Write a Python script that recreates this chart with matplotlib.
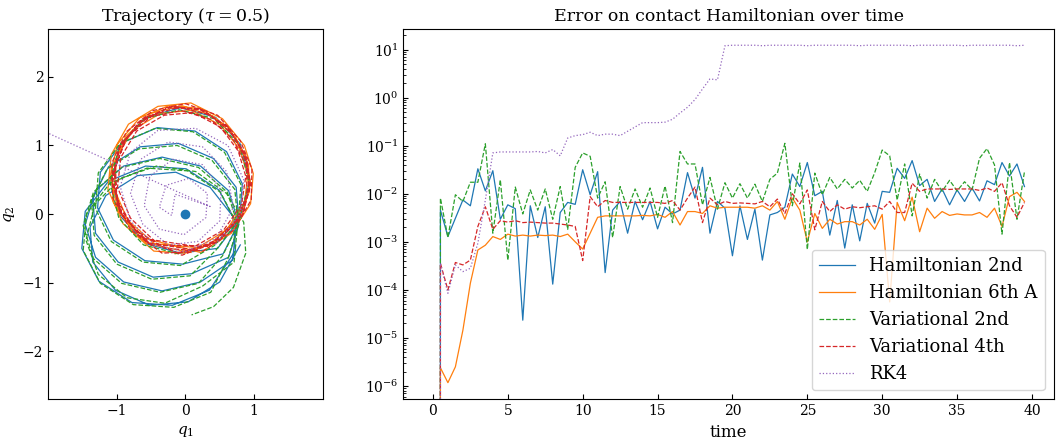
import numpy as np
import matplotlib
matplotlib.use("Agg")
import matplotlib.pyplot as plt

plt.rcParams['font.family'] = ['DejaVu Serif']
plt.rcParams['mathtext.fontset'] = 'dejavuserif'
plt.rcParams['xtick.direction'] = 'in'
plt.rcParams['ytick.direction'] = 'in'

# time grid of the integrators (step tau = 0.5)
time = np.arange(0, 40, 0.5)

# log10 of the contact Hamiltonian error, from t = 0.5 on (error at t = 0 is 0)
log_err_ham2 = [
    -2.34, -2.89, -2.51, -2.13, -2.25, -1.48, -1.94, -1.52, -2.53, -2.23,
    -2.31, -4.63, -2.25, -2.91, -2.27, -3.88, -2.39, -2.18, -2.22, -1.50,
    -2.02, -1.54, -3.64, -2.34, -2.16, -2.82, -2.16, -2.54, -2.16, -2.73,
    -2.28, -2.42, -2.34, -1.56, -2.09, -1.45, -2.82, -2.16, -2.30, -3.29,
    -2.25, -2.95, -2.32, -3.38, -2.44, -2.39, -2.28, -1.59, -1.85, -1.35,
    -2.04, -1.95, -2.86, -2.14, -3.13, -2.23, -2.98, -2.20, -2.61, -1.95,
    -1.97, -1.47, -1.68, -1.31, -1.83, -1.70, -2.16, -1.90, -2.23, -1.92,
    -2.16, -1.88, -2.15, -1.73, -1.81, -1.35, -1.63, -1.38, -1.85]
log_err_ham6 = [
    -5.62, -5.93, -5.60, -4.84, -3.86, -3.17, -3.07, -2.89, -2.95, -2.84,
    -2.88, -2.86, -2.88, -2.86, -2.87, -2.86, -2.89, -2.84, -3.00, -3.15,
    -2.82, -2.49, -2.46, -2.46, -2.46, -2.46, -2.46, -2.45, -2.46, -2.43,
    -2.49, -2.37, -2.65, -2.37, -2.37, -2.41, -2.25, -2.30, -2.28, -2.28,
    -2.28, -2.28, -2.30, -2.25, -2.34, -2.16, -2.53, -2.09, -2.34, -3.00,
    -2.41, -2.72, -2.53, -2.63, -2.58, -2.58, -2.65, -2.53, -2.74, -2.43,
    -4.25, -2.18, -2.56, -2.07, -2.79, -2.30, -2.51, -2.37, -2.45, -2.42,
    -2.44, -2.44, -2.39, -2.49, -2.30, -2.68, -2.06, -1.97, -2.16]
log_err_var2 = [
    -2.09, -2.91, -2.02, -2.16, -1.76, -1.76, -0.96, -2.82, -1.71, -3.38,
    -1.86, -2.42, -1.92, -2.34, -1.90, -2.53, -1.85, -2.74, -1.45, -1.15,
    -1.22, -2.09, -1.75, -2.91, -1.85, -2.32, -1.90, -2.28, -1.88, -2.49,
    -1.84, -2.60, -1.12, -1.38, -1.38, -2.23, -1.66, -2.32, -1.77, -2.09,
    -1.79, -2.09, -1.80, -2.16, -1.70, -1.57, -0.95, -2.25, -1.36, -3.16,
    -1.57, -2.02, -1.66, -1.90, -1.70, -1.88, -1.72, -1.95, -1.56, -1.09,
    -1.21, -2.13, -1.38, -2.46, -1.59, -2.09, -1.70, -1.95, -1.72, -1.94,
    -1.75, -1.92, -1.26, -1.06, -1.40, -2.84, -1.35, -2.53, -1.54]
log_err_var4 = [
    -3.45, -4.00, -3.43, -3.48, -3.38, -2.68, -2.27, -2.74, -2.56, -2.59,
    -2.56, -2.60, -2.59, -2.60, -2.61, -2.61, -2.63, -2.65, -2.68, -3.39,
    -2.06, -2.27, -2.14, -2.18, -2.18, -2.18, -2.18, -2.18, -2.18, -2.18,
    -2.20, -2.14, -2.34, -2.09, -1.86, -2.60, -2.09, -2.23, -2.16, -2.20,
    -2.19, -2.20, -2.21, -2.16, -2.27, -2.11, -2.41, -2.00, -2.21, -1.92,
    -2.75, -2.16, -2.37, -2.23, -2.32, -2.27, -2.29, -2.27, -2.25, -2.32,
    -2.16, -2.39, -2.39, -1.78, -1.95, -1.90, -1.90, -1.90, -1.91, -1.90,
    -1.90, -1.90, -1.93, -1.88, -1.95, -1.77, -2.25, -2.49, -2.18]
log_err_rk4 = [
    -3.45, -4.07, -3.48, -3.62, -3.55, -3.03, -2.13, -1.15, -1.13, -1.13,
    -1.13, -1.13, -1.13, -1.12, -1.15, -1.08, -1.21, -0.84, -0.79, -0.77,
    -0.72, -0.79, -0.76, -0.76, -0.79, -0.70, -0.61, -0.52, -0.52, -0.52,
    -0.51, -0.45, -0.32, -0.20, -0.04, 0.18, 0.39, 0.37, 1.08, 1.09,
    1.09, 1.09, 1.09, 1.08, 1.09, 1.09, 1.09, 1.09, 1.09, 1.08,
    1.09, 1.09, 1.09, 1.09, 1.09, 1.09, 1.08, 1.09, 1.09, 1.09,
    1.09, 1.09, 1.09, 1.08, 1.09, 1.09, 1.09, 1.09, 1.09, 1.09,
    1.08, 1.09, 1.09, 1.09, 1.09, 1.09, 1.09, 1.08, 1.09]

# trajectories in the (q1, q2) plane
q1_ham2 = [0.44, 0.80, 0.94, 0.80, 0.44, -0.07, -0.58, -0.94, -1.08, -0.94, -0.58, -0.07,
           0.47, 0.79, 0.83, 0.60, 0.14, -0.41, -0.92, -1.24, -1.28, -1.05, -0.59, -0.04,
           0.55, 0.78, 0.74, 0.41, -0.10, -0.66, -1.12, -1.35, -1.31, -0.98, -0.47, 0.09,
           0.63, 0.78, 0.63, 0.22, -0.34, -0.90, -1.31, -1.46, -1.31, -0.90, -0.34, 0.22,
           0.69, 0.74, 0.49, 0.01, -0.58, -1.12, -1.46, -1.51, -1.26, -0.78, -0.19, 0.35,
           0.73, 0.69, 0.36, -0.14, -0.70, -1.16, -1.39, -1.35, -1.02, -0.52, 0.04, 0.50, 0.80]
q2_ham2 = [-0.43, -0.04, 0.49, 1.02, 1.41, 1.55, 1.41, 1.02, 0.49, -0.04, -0.43, -0.57,
           -0.50, -0.08, 0.44, 0.91, 1.21, 1.26, 1.04, 0.61, 0.09, -0.38, -0.68, -0.73,
           -0.58, -0.12, 0.39, 0.81, 1.03, 0.98, 0.69, 0.23, -0.28, -0.70, -0.92, -0.87,
           -0.63, -0.15, 0.34, 0.70, 0.83, 0.70, 0.34, -0.15, -0.63, -0.99, -1.12, -0.99,
           -0.67, -0.13, 0.35, 0.66, 0.70, 0.48, 0.04, -0.50, -0.98, -1.29, -1.33, -1.11,
           -0.53, -0.03, 0.39, 0.61, 0.56, 0.27, -0.19, -0.70, -1.11, -1.33, -1.28, -0.99, -0.45]

q1_var2 = [-0.10, -0.61, -0.97, -1.10, -0.96, -0.60, -0.09, 0.42, 0.79, 0.93, 0.79, 0.42,
           -0.07, -0.62, -1.08, -1.31, -1.27, -0.95, -0.44, 0.11, 0.57, 0.81, 0.77, 0.45,
           0.07, -0.49, -1.00, -1.33, -1.37, -1.14, -0.68, -0.12, 0.39, 0.72, 0.77, 0.54,
           0.19, -0.37, -0.93, -1.34, -1.49, -1.34, -0.93, -0.37, 0.19, 0.61, 0.77, 0.62,
           0.37, -0.17, -0.76, -1.24, -1.49, -1.44, -1.10, -0.56, 0.03, 0.51, 0.76, 0.71,
           0.25, -0.30, -0.85, -1.27, -1.45, -1.32, -0.95, -0.42, 0.15, 0.60, 0.85, 0.88,
           0.70, 0.41, 0.09]
q2_var2 = [-0.58, -0.45, -0.06, 0.47, 1.00, 1.39, 1.52, 1.39, 1.00, 0.46, -0.06, -0.46,
           -0.75, -0.70, -0.40, 0.08, 0.60, 1.03, 1.25, 1.20, 0.90, 0.43, -0.09, -0.52,
           -0.90, -0.95, -0.73, -0.31, 0.20, 0.66, 0.95, 1.00, 0.78, 0.36, -0.15, -0.61,
           -1.01, -1.14, -1.01, -0.65, -0.17, 0.32, 0.68, 0.81, 0.68, 0.32, -0.17, -0.65,
           -1.14, -1.36, -1.32, -1.01, -0.53, 0.01, 0.45, 0.67, 0.63, 0.32, -0.16, -0.70,
           -1.05, -1.30, -1.22, -0.88, -0.38, 0.14, 0.52, 0.70, 0.62, 0.30, -0.12, -0.57,
           -1.07, -1.35, -1.47]

q1_ham6 = [-0.15, 0.35, 0.75, 0.93, 0.92, 0.73, 0.40, -0.05, -0.50, -0.87, -1.07, -1.05, -0.72,
           0.22, 0.67, 0.95, 0.99, 0.86, 0.54, 0.08, -0.40, -0.83, -1.08, -1.13, -0.91, -0.46,
           0.00, 0.50, 0.84, 0.95, 0.87, 0.62, 0.22, -0.24, -0.67, -0.99, -1.10, -0.97, -0.58,
           0.18, 0.60, 0.86, 0.91, 0.79, 0.51, 0.09, -0.36, -0.76, -1.00, -1.04, -0.84, -0.42,
           0.08]
q2_ham6 = [-0.58, -0.45, -0.08, 0.32, 0.72, 1.12, 1.43, 1.58, 1.47, 1.13, 0.67, 0.17, -0.32,
           -0.56, -0.28, 0.15, 0.59, 1.00, 1.39, 1.62, 1.57, 1.31, 0.87, 0.36, -0.14, -0.54,
           -0.57, -0.38, 0.02, 0.45, 0.87, 1.27, 1.54, 1.58, 1.40, 1.02, 0.54, 0.03, -0.42,
           -0.49, -0.23, 0.16, 0.57, 0.95, 1.30, 1.51, 1.47, 1.23, 0.84, 0.37, -0.09, -0.46,
           -0.56]

q1_var4 = [-0.10, 0.40, 0.78, 0.93, 0.90, 0.70, 0.35, -0.10, -0.55, -0.88, -1.04, -0.98, -0.65,
           0.14, 0.56, 0.82, 0.88, 0.77, 0.51, 0.11, -0.31, -0.71, -0.94, -0.99, -0.80, -0.40,
           -0.05, 0.48, 0.83, 0.95, 0.88, 0.63, 0.25, -0.20, -0.63, -0.95, -1.07, -0.95, -0.55,
           0.26, 0.71, 0.96, 0.97, 0.80, 0.47, 0.00, -0.47, -0.86, -1.07, -1.06, -0.80, -0.34,
           0.05, 0.52, 0.85, 0.94, 0.85, 0.60, 0.20, -0.25, -0.68, -0.97, -1.06, -0.92, -0.50,
           0.32, 0.72, 0.90, 0.89, 0.70, 0.37, -0.06, -0.50, -0.85, -1.02, -1.00, -0.75, -0.30,
           0.12]
q2_var4 = [-0.57, -0.42, -0.05, 0.35, 0.75, 1.15, 1.45, 1.56, 1.42, 1.08, 0.62, 0.12, -0.35,
           -0.47, -0.23, 0.14, 0.55, 0.92, 1.27, 1.48, 1.44, 1.21, 0.83, 0.39, -0.06, -0.44,
           -0.60, -0.40, -0.02, 0.42, 0.85, 1.25, 1.52, 1.57, 1.38, 1.00, 0.52, 0.02, -0.42,
           -0.54, -0.23, 0.21, 0.66, 1.07, 1.44, 1.61, 1.51, 1.20, 0.75, 0.24, -0.23, -0.57,
           -0.55, -0.35, 0.05, 0.48, 0.90, 1.28, 1.53, 1.55, 1.33, 0.95, 0.47, -0.02, -0.45,
           -0.47, -0.14, 0.28, 0.70, 1.08, 1.38, 1.51, 1.42, 1.12, 0.70, 0.22, -0.22, -0.50,
           -0.53]

q1_rk4 = [0.44, 0.80, 0.85, 0.62, 0.15, -0.40, -0.80, -0.95, -0.80, -0.45, 0.00, 0.45,
          0.70, 0.60, 0.25, -0.25, -0.65, -0.80, -0.62, -0.25, 0.18, 0.50, 0.52, 0.25,
          -0.18, -0.52, -0.60, -0.38, -0.02, 0.30, 0.32, 0.05, -0.28, -0.38, -0.20, -0.15,
          0.36, -6.0]
q2_rk4 = [-0.44, 0.00, 0.50, 1.00, 1.25, 1.22, 0.90, 0.40, -0.10, -0.45, -0.55, -0.35,
          0.10, 0.62, 0.98, 1.05, 0.80, 0.30, -0.15, -0.45, -0.40, -0.10, 0.35, 0.72,
          0.80, 0.55, 0.12, -0.22, -0.30, -0.05, 0.30, 0.52, 0.42, 0.10, -0.02, 0.29,
          0.11, 2.99]

labels = ['Hamiltonian 2nd', 'Hamiltonian 6th A', 'Variational 2nd', 'Variational 4th', 'RK4']
colors = ['C0', 'C1', 'C2', 'C3', 'C4']
styles = ['-', '-', '--', '--', ':']
err_ticks = [1e-6, 1e-5, 1e-4, 1e-3, 1e-2, 1e-1, 1e0, 1e1]

fig = plt.figure(figsize=(10.57, 4.41), dpi=100)
ax1 = fig.add_axes([0.0454, 0.0946, 0.260, 0.840])
ax2 = fig.add_axes([0.3816, 0.0946, 0.6156, 0.840])

# left: trajectories
trajs = [(q1_ham2, q2_ham2), (q1_ham6, q2_ham6), (q1_var2, q2_var2),
         (q1_var4, q2_var4), (q1_rk4, q2_rk4)]
for (qx, qy), c, ls in zip(trajs, colors, styles):
    ax1.plot(qx, qy, color=c, linestyle=ls, linewidth=0.9)
ax1.plot(0, 0, 'o', color='C0', markersize=6)
ax1.set_xlim(-2, 2)
ax1.set_ylim(-2.7, 2.7)
ax1.set_aspect('equal')
ax1.set_xticks([-1, 0, 1])
ax1.set_yticks([-2, -1, 0, 1, 2])
ax1.set_xlabel('$q_1$', fontsize=11)
ax1.set_ylabel('$q_2$', fontsize=11)
ax1.set_title(r'Trajectory ($\tau = 0.5$)', fontsize=12.5)

# right: error over time
errs = [log_err_ham2, log_err_ham6, log_err_var2, log_err_var4, log_err_rk4]
for le, lab, c, ls in zip(errs, labels, colors, styles):
    err = np.concatenate([[0.0], 10.0 ** np.array(le)])
    ax2.plot(time, err, color=c, linestyle=ls, linewidth=0.9, label=lab)
ax2.set_yscale('log')
ax2.set_yticks(err_ticks)
ax2.set_ylim(5.3e-7, 27)
ax2.set_xlim(-1.975, 41.475)
ax2.set_xlabel('time', fontsize=12)
ax2.set_title('Error on contact Hamiltonian over time', fontsize=12.5)
ax2.legend(loc='lower right', fontsize=13)

for ax in (ax1, ax2):
    ax.tick_params(labelsize=10)

fig.savefig('out.png', dpi=100)
